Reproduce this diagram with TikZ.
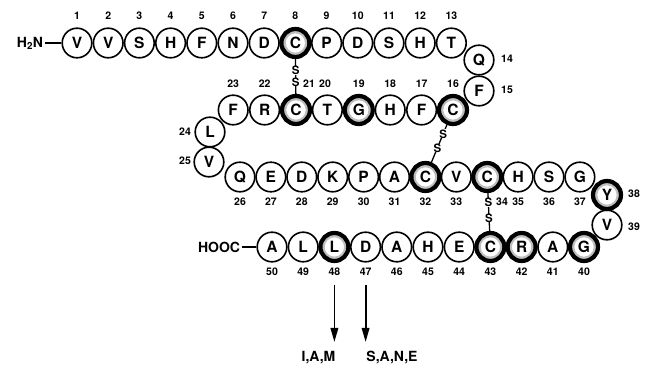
\documentclass[tikz,border=0pt]{standalone}
\usepackage{fontspec}
\setmainfont{TeX Gyre Heros}
\usetikzlibrary{arrows.meta}

% plain residue: thin ring; marked residue: heavy ring with grey halo
\newcommand{\plainres}[3]{\node[res] (r#1) at (#2) {#3};}
\newcommand{\boldres}[3]{%
  \draw[gray!50,line width=2.6pt] (#2) circle[radius=11pt];
  \node[res,heavy] (r#1) at (#2) {#3};}
\newcommand{\resnum}[2]{\node[num] (n#1) at (#2) {#1};}

\begin{document}
\begin{tikzpicture}[x=1pt,y=-1pt,
  res/.style={circle,draw,line width=1.6pt,minimum size=29.6pt,inner sep=0pt,
              font=\fontsize{15.5}{15.5}\selectfont\bfseries},
  heavy/.style={line width=4.2pt,minimum size=28pt},
  num/.style={inner sep=0pt,font=\fontsize{10.5}{10.5}\selectfont\bfseries},
  term/.style={inner sep=0pt,font=\fontsize{14}{14}\selectfont\bfseries},
  bond/.style={line width=1.3pt},
  sulf/.style={inner sep=0pt,fill=white,font=\fontsize{11.5}{11.5}\selectfont\bfseries},
  subst/.style={line width=1.8pt,-{Triangle[length=14pt,width=7.5pt]}}]

\fill[white] (0,0) rectangle (649,371);
\useasboundingbox (0,0) rectangle (649,371);

% ---- chain, residues 1-13 ----
\plainres{1}{77,43}{V}
\plainres{2}{108.2,43}{V}
\plainres{3}{139.4,43}{S}
\plainres{4}{170.6,43}{H}
\plainres{5}{201.8,43}{F}
\plainres{6}{233,43}{N}
\plainres{7}{264.2,43}{D}
\boldres{8}{295.4,43}{C}
\plainres{9}{326.6,43}{P}
\plainres{10}{357.8,43}{D}
\plainres{11}{389,43}{S}
\plainres{12}{420.2,43}{H}
\plainres{13}{451.4,43}{T}
\foreach \i/\x in {1/77,2/108.2,3/139.4,4/170.6,5/201.8,6/233,7/264.2,8/295.4,
                   9/326.6,10/357.8,11/389,12/420.2,13/451.4}
  {\resnum{\i}{\x,16}}

% ---- turn 14-15 ----
\plainres{14}{479,60}{Q}
\plainres{15}{479,91}{F}
\resnum{14}{507,59}
\resnum{15}{507,90}

% ---- residues 16-23 ----
\boldres{16}{453,110}{C}
\plainres{17}{421.6,110}{F}
\plainres{18}{390.2,110}{H}
\boldres{19}{358.8,110}{G}
\plainres{20}{327.4,110}{T}
\boldres{21}{296,110}{C}
\plainres{22}{264.6,110}{R}
\plainres{23}{233.2,110}{F}
\foreach \i/\x in {16/453,17/421.6,18/390.2,19/358.8,20/325,21/309,22/264.6,23/233.2}
  {\resnum{\i}{\x,84}}

% ---- turn 24-25 ----
\plainres{24}{210,132}{L}
\plainres{25}{209,162}{V}
\resnum{24}{185,132}
\resnum{25}{185,161}

% ---- residues 26-37 ----
\plainres{26}{240,177}{Q}
\plainres{27}{270.9,177}{E}
\plainres{28}{301.8,177}{D}
\plainres{29}{332.7,177}{K}
\plainres{30}{363.6,177}{P}
\plainres{31}{394.5,177}{A}
\boldres{32}{425.4,177}{C}
\plainres{33}{456.3,177}{V}
\boldres{34}{487.2,177}{C}
\plainres{35}{518.1,177}{H}
\plainres{36}{549,177}{S}
\plainres{37}{579.9,177}{G}
\foreach \i/\x in {26/240,27/270.9,28/301.8,29/332.7,30/363.6,31/394.5,32/425.4,
                   33/456.3,34/502,35/518.1,36/549,37/579.9}
  {\resnum{\i}{\x,202}}

% ---- turn 38-39 ----
\boldres{38}{607,195}{Y}
\plainres{39}{607,225}{V}
\resnum{38}{634,194}
\resnum{39}{634,227}

% ---- residues 40-50 ----
\boldres{40}{584,247}{G}
\plainres{41}{552.8,247}{A}
\boldres{42}{521.6,247}{R}
\boldres{43}{490.4,247}{C}
\plainres{44}{459.2,247}{E}
\plainres{45}{428,247}{H}
\plainres{46}{396.8,247}{A}
\plainres{47}{365.6,247}{D}
\boldres{48}{334.4,247}{L}
\plainres{49}{303.2,247}{L}
\plainres{50}{272,247}{A}
\foreach \i/\x in {40/584,41/552.8,42/521.6,43/490.4,44/459.2,45/428,46/396.8,
                   47/365.6,48/334.4,49/303.2,50/272}
  {\resnum{\i}{\x,272}}

% ---- termini ----
\node[term] (nterm) at (30,43) {H\textsubscript{2}N};
\node[term] (cterm) at (219,247) {HOOC};
\draw[bond] (nterm.east) ++(2,0) coordinate (nt) -- (r1.west);
\draw[bond] (cterm.east) ++(2,0) coordinate (ct) -- (r50.west);

% ---- disulfide bridges ----
\draw[bond] (r8) -- (r21)
  node[sulf,pos=0.32] {S} node[sulf,pos=0.66] {S};
\draw[bond] (r16) -- (r32)
  node[sulf,pos=0.24] {S} node[sulf,pos=0.62] {S};
\draw[bond] (r34) -- (r43)
  node[sulf,pos=0.25] {S} node[sulf,pos=0.66] {S};

% ---- substitutions ----
\coordinate (m48) at (334.4,285);
\coordinate (e48) at (334.4,342);
\coordinate (m47) at (365.6,285);
\coordinate (e47) at (365.6,342);
\draw[subst] (m48) -- (e48);
\draw[subst] (m47) -- (e47);
\node[term] (sub48) at (318.5,358) {I,A,M};
\node[term] (sub47) at (392,358) {S,A,N,E};
\end{tikzpicture}
\end{document}
